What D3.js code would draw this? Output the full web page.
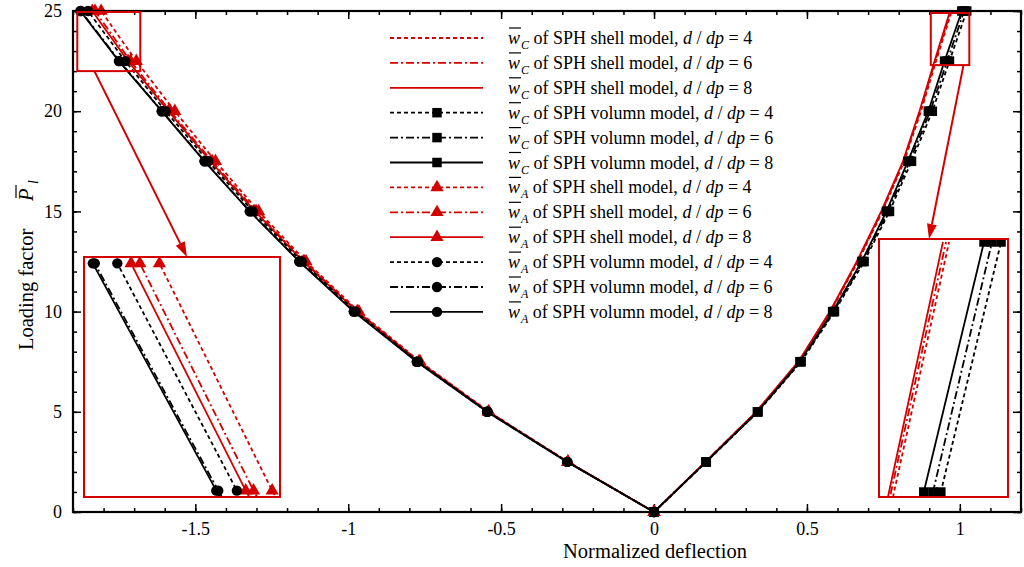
<!DOCTYPE html>
<html>
<head>
<meta charset="utf-8">
<script src="https://cdn.jsdelivr.net/npm/d3@7"></script>
<style>
  html, body { margin: 0; padding: 0; background: #fff; }
  svg { display: block; font-family: "Liberation Serif", "Times New Roman", serif; }
</style>
</head>
<body>
<svg id="chart" width="1024" height="567"></svg>
<script>
// loading factor P at each output step
const loadP = [0, 2.5, 5, 7.5, 10, 12.5, 15, 17.5, 20, 22.5, 25];

// w_C (centre deflection)
const wcShell4 = [0, 0.169, 0.335, 0.474, 0.578, 0.667, 0.747, 0.818, 0.873, 0.9221, 0.9737];
const wcShell6 = [0, 0.168, 0.334, 0.473, 0.576, 0.665, 0.745, 0.816, 0.870, 0.9193, 0.9709];
const wcShell8 = [0, 0.168, 0.334, 0.472, 0.575, 0.663, 0.743, 0.814, 0.868, 0.9174, 0.968];
const wcVol4 = [0, 0.171, 0.340, 0.481, 0.590, 0.687, 0.770, 0.842, 0.910, 0.966, 1.0225];
const wcVol6 = [0, 0.170, 0.339, 0.479, 0.587, 0.683, 0.765, 0.836, 0.903, 0.9586, 1.014];
const wcVol8 = [0, 0.170, 0.338, 0.477, 0.584, 0.679, 0.760, 0.830, 0.897, 0.950, 1.0065];

// w_A
const waShell4 = [0, -0.281, -0.540, -0.765, -0.965, -1.138, -1.293, -1.434, -1.567, -1.693, -1.808];
const waShell6 = [0, -0.282, -0.541, -0.768, -0.969, -1.144, -1.301, -1.445, -1.582, -1.712, -1.828];
const waShell8 = [0, -0.282, -0.542, -0.769, -0.971, -1.147, -1.305, -1.450, -1.588, -1.720, -1.837];
const waVol4 = [0, -0.283, -0.544, -0.772, -0.976, -1.152, -1.312, -1.458, -1.597, -1.729, -1.851];
const waVol6 = [0, -0.284, -0.546, -0.775, -0.981, -1.159, -1.321, -1.469, -1.609, -1.748, -1.874];
const waVol8 = [0, -0.284, -0.546, -0.776, -0.982, -1.160, -1.322, -1.470, -1.610, -1.750, -1.876];

const xTicks = [-1.5, -1, -0.5, 0, 0.5, 1];
const yTicks = [0, 5, 10, 15, 20, 25];

const RED = '#d40000';
const dashes = { 4: '4,3', 6: '8,3,2,3', 8: null };

const series = [
  { v: wcShell4, q: 'C', model: 'shell', r: 4, color: RED, marker: null },
  { v: wcShell6, q: 'C', model: 'shell', r: 6, color: RED, marker: null },
  { v: wcShell8, q: 'C', model: 'shell', r: 8, color: RED, marker: null },
  { v: wcVol4, q: 'C', model: 'volumn', r: 4, color: '#000', marker: d3.symbolSquare },
  { v: wcVol6, q: 'C', model: 'volumn', r: 6, color: '#000', marker: d3.symbolSquare },
  { v: wcVol8, q: 'C', model: 'volumn', r: 8, color: '#000', marker: d3.symbolSquare },
  { v: waShell4, q: 'A', model: 'shell', r: 4, color: RED, marker: d3.symbolTriangle },
  { v: waShell6, q: 'A', model: 'shell', r: 6, color: RED, marker: d3.symbolTriangle },
  { v: waShell8, q: 'A', model: 'shell', r: 8, color: RED, marker: d3.symbolTriangle },
  { v: waVol4, q: 'A', model: 'volumn', r: 4, color: '#000', marker: d3.symbolCircle },
  { v: waVol6, q: 'A', model: 'volumn', r: 6, color: '#000', marker: d3.symbolCircle },
  { v: waVol8, q: 'A', model: 'volumn', r: 8, color: '#000', marker: d3.symbolCircle },
];

function symSize(m) {
  if (m === d3.symbolSquare) return 90;
  if (m === d3.symbolTriangle) return 75;
  return 85;
}

const svg = d3.select('#chart');
const mLeft = 73, mRight = 1021, mTop = 11, mBottom = 512;
const x = d3.scaleLinear().domain([-1.9, 1.2]).range([mLeft, mRight]);
const y = d3.scaleLinear().domain([0, 25]).range([mBottom, mTop]);

// ---- axes (ticks inward on all four sides)
const fmt = (d) => String(+d.toFixed(1));
const minorX = d3.range(-19, 13).map((i) => i / 10);
const minorY = d3.range(0, 26);

function addAxis(axis, tr) {
  const g = svg.append('g').attr('transform', tr).call(axis);
  g.select('.domain').remove();
  g.selectAll('line').attr('stroke', '#000').attr('stroke-width', 1.5);
  g.selectAll('text').attr('font-size', 18).attr('fill', '#000')
    .attr('font-family', '"Liberation Serif", serif');
  return g;
}
addAxis(d3.axisBottom(x).tickValues(minorX).tickSize(-4).tickFormat(''), `translate(0,${mBottom})`);
addAxis(d3.axisBottom(x).tickValues(xTicks).tickSize(-8).tickPadding(10).tickFormat(fmt), `translate(0,${mBottom})`);
addAxis(d3.axisTop(x).tickValues(minorX).tickSize(-4).tickFormat(''), `translate(0,${mTop})`);
addAxis(d3.axisTop(x).tickValues(xTicks).tickSize(-8).tickFormat(''), `translate(0,${mTop})`);
addAxis(d3.axisLeft(y).tickValues(minorY).tickSize(-4).tickFormat(''), `translate(${mLeft},0)`);
addAxis(d3.axisLeft(y).tickValues(yTicks).tickSize(-8).tickPadding(11).tickFormat(fmt), `translate(${mLeft},0)`);
addAxis(d3.axisRight(y).tickValues(minorY).tickSize(-4).tickFormat(''), `translate(${mRight},0)`);
addAxis(d3.axisRight(y).tickValues(yTicks).tickSize(-8).tickFormat(''), `translate(${mRight},0)`);

// ---- curves
function drawSeries(g, sx, sy) {
  const line = d3.line().x((d) => sx(d[0])).y((d) => sy(d[1]));
  series.forEach((s) => {
    const pts = s.v.map((w, i) => [w, loadP[i]]);
    g.append('path')
      .attr('d', line(pts))
      .attr('fill', 'none')
      .attr('stroke', s.color)
      .attr('stroke-width', 1.8)
      .attr('stroke-dasharray', dashes[s.r]);
    if (s.marker) {
      g.selectAll(null).data(pts).join('path')
        .attr('d', d3.symbol(s.marker, symSize(s.marker)))
        .attr('transform', (d) => `translate(${sx(d[0])},${sy(d[1])})`)
        .attr('fill', s.color);
    }
  });
}
drawSeries(svg.append('g'), x, y);

// ---- frame
svg.append('rect')
  .attr('x', mLeft).attr('y', mTop)
  .attr('width', mRight - mLeft).attr('height', mBottom - mTop)
  .attr('fill', 'none').attr('stroke', '#000').attr('stroke-width', 2.2);

// ---- zoomed insets
const insets = [
  { id: 'zl', dx: [-1.885, -1.685], dy: [22.43, 25.07], box: [84, 257, 280, 497],
    mark: [-1.886, -1.68, 22.0, 24.95], from: -1.83, to: 187 - 84 },
  { id: 'zr', dx: [0.908, 1.029], dy: [22.45, 25.03], box: [879, 239, 1008, 497],
    mark: [0.905, 1.031, 22.3, 24.9], from: 1.012, to: 929 - 879 },
];

const defs = svg.append('defs');
insets.forEach((ins) => {
  const [x0, y0, x1, y1] = ins.box;
  // highlight box on the main plot
  svg.append('rect')
    .attr('x', x(ins.mark[0])).attr('y', y(ins.mark[3]))
    .attr('width', x(ins.mark[1]) - x(ins.mark[0]))
    .attr('height', y(ins.mark[2]) - y(ins.mark[3]))
    .attr('fill', 'none').attr('stroke', RED).attr('stroke-width', 2);

  defs.append('clipPath').attr('id', ins.id)
    .append('rect').attr('x', x0).attr('y', y0).attr('width', x1 - x0).attr('height', y1 - y0);

  svg.append('rect')
    .attr('x', x0).attr('y', y0).attr('width', x1 - x0).attr('height', y1 - y0)
    .attr('fill', '#fff');
  const sx = d3.scaleLinear().domain(ins.dx).range([x0, x1]);
  const sy = d3.scaleLinear().domain(ins.dy).range([y1, y0]);
  drawSeries(svg.append('g').attr('clip-path', `url(#${ins.id})`), sx, sy);
  svg.append('rect')
    .attr('x', x0).attr('y', y0).attr('width', x1 - x0).attr('height', y1 - y0)
    .attr('fill', 'none').attr('stroke', RED).attr('stroke-width', 2);

  // arrow from highlight box to inset
  const ax0 = x(ins.from), ay0 = y(ins.mark[2]);
  const ax1 = x0 + ins.to, ay1 = y0;
  const ang = Math.atan2(ay1 - ay0, ax1 - ax0);
  const L = 15, W = 5;
  const bx = ax1 - L * Math.cos(ang), by = ay1 - L * Math.sin(ang);
  svg.append('line')
    .attr('x1', ax0).attr('y1', ay0).attr('x2', bx).attr('y2', by)
    .attr('stroke', RED).attr('stroke-width', 2);
  svg.append('path')
    .attr('d', `M${ax1},${ay1}L${bx + W * Math.sin(ang)},${by - W * Math.cos(ang)}L${bx - W * Math.sin(ang)},${by + W * Math.cos(ang)}Z`)
    .attr('fill', RED);
});

// ---- legend
const legend = svg.append('g');
series.forEach((s, i) => {
  const ry = 38 + i * 24.9;
  legend.append('line')
    .attr('x1', 390).attr('x2', 483).attr('y1', ry).attr('y2', ry)
    .attr('stroke', s.color).attr('stroke-width', 1.8)
    .attr('stroke-dasharray', dashes[s.r]);
  if (s.marker) {
    legend.append('path')
      .attr('d', d3.symbol(s.marker, symSize(s.marker)))
      .attr('transform', `translate(437,${ry})`)
      .attr('fill', s.color);
  }
  const t = legend.append('text')
    .attr('x', 508).attr('y', ry + 6)
    .attr('font-size', 18).attr('fill', '#000');
  t.append('tspan').attr('font-style', 'italic').text('w');
  t.append('tspan').attr('font-style', 'italic').attr('font-size', 12).attr('dy', 5).attr('dx', 1).text(s.q);
  t.append('tspan').attr('dy', -5).text(` of SPH ${s.model} model, `);
  t.append('tspan').attr('font-style', 'italic').text('d');
  t.append('tspan').text(' / ');
  t.append('tspan').attr('font-style', 'italic').text('dp');
  t.append('tspan').text(` = ${s.r}`);
  const ext = t.node().getExtentOfChar(0);
  legend.append('line')
    .attr('x1', ext.x + 1).attr('x2', ext.x + ext.width + 1)
    .attr('y1', ry - 10).attr('y2', ry - 10)
    .attr('stroke', '#000').attr('stroke-width', 1.2);
});

// ---- axis titles
svg.append('text')
  .attr('x', 655).attr('y', 558)
  .attr('text-anchor', 'middle').attr('font-size', 20.5)
  .text('Normalized deflection');

// rotated frame: screen = (33 + ry, 264 - rx)
const yl = svg.append('g').attr('transform', 'translate(33,264) rotate(-90)');
yl.append('text')
  .attr('x', -86).attr('y', 0)
  .attr('font-size', 20.5)
  .text('Loading factor');
yl.append('text')
  .attr('x', 63).attr('y', 0)
  .attr('font-size', 20.5).attr('font-style', 'italic')
  .text('P');
yl.append('text')
  .attr('x', 80).attr('y', 5)
  .attr('font-size', 14).attr('font-style', 'italic')
  .text('l');
yl.append('line')
  .attr('x1', 66).attr('x2', 79)
  .attr('y1', -17).attr('y2', -17)
  .attr('stroke', '#000').attr('stroke-width', 1.2);
</script>
</body>
</html>
